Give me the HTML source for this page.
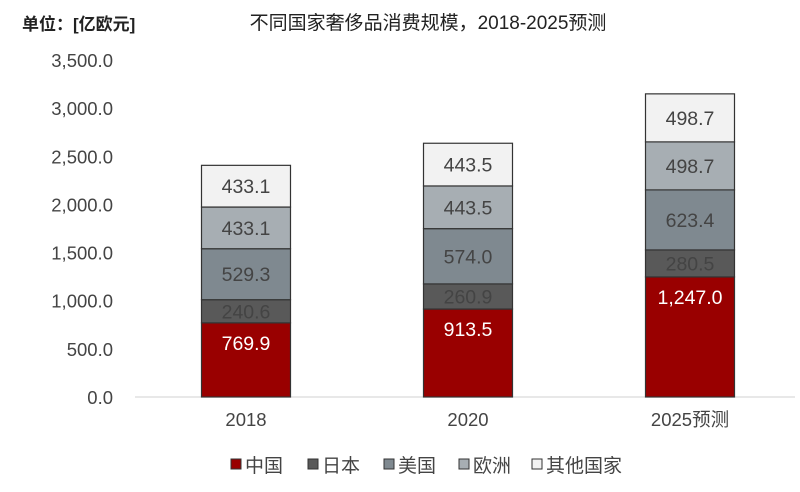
<!DOCTYPE html>
<html><head><meta charset="utf-8"><style>
body{margin:0;background:#fff;font-family:"Liberation Sans","Noto Sans CJK SC",sans-serif}
svg text{font-family:"Liberation Sans","Noto Sans CJK SC",sans-serif}
</style></head><body>
<svg id="c" width="800" height="487" xmlns="http://www.w3.org/2000/svg">
<text x="22" y="30" font-size="17" font-weight="bold" fill="#222">单位：[亿欧元]</text>
<text x="428" y="29" font-size="19" fill="#222" text-anchor="middle">不同国家奢侈品消费规模，2018-2025预测</text>
<g id="axes"></g><g id="bars"></g><g id="legend"></g>
</svg>
<script>
const categories=["2018","2020","2025预测"];
const seriesNames=["中国","日本","美国","欧洲","其他国家"];
const china=[769.9,913.5,1247.0];
const japan=[240.6,260.9,280.5];
const usa=[529.3,574.0,623.4];
const europe=[433.1,443.5,498.7];
const others=[433.1,443.5,498.7];
const yTicks=[0,500,1000,1500,2000,2500,3000,3500];
const colors=["#990000","#595959","#7f8990","#a7aeb3","#f2f2f2"];
const textColors=["#fff","#444","#444","#444","#444"];
const NS="http://www.w3.org/2000/svg";
const y0=397,yTop=60,yMax=3500;
const Y=v=>y0-(v/yMax)*(y0-yTop);
const X=i=>246+i*222;
const bw=89;
function mk(t,a,p){const e=document.createElementNS(NS,t);for(const k in a)e.setAttribute(k,a[k]);p.appendChild(e);return e;}
const ax=document.getElementById('axes');
yTicks.forEach(t=>{
 const e=mk('text',{x:113,y:Y(t)+7,'font-size':18.5,fill:'#444','text-anchor':'end'},ax);
 e.textContent=t.toLocaleString('en-US',{minimumFractionDigits:1,maximumFractionDigits:1});
 
 
});
const base=mk('line',{x1:135,x2:795,y1:y0,y2:y0,stroke:'#d0d0d0','stroke-width':1},ax);


categories.forEach((c,i)=>{
 const e=mk('text',{x:X(i),y:426,'font-size':18.5,fill:'#444','text-anchor':'middle'},ax);
 e.textContent=c;
 
 
});
const series=[china,japan,usa,europe,others];
const bg=document.getElementById('bars');
categories.forEach((c,i)=>{
 let cum=0;
 series.forEach((s,k)=>{
  const v=s[i];const top=Y(cum+v),bot=Y(cum);
  const r=mk('rect',{x:X(i)-bw/2,y:top,width:bw,height:bot-top,fill:colors[k],stroke:'#333','stroke-width':1.2},bg);
  
  
  const ly=k===0?top+27:(top+bot)/2+7;
  const t=mk('text',{x:X(i),y:ly,'font-size':19.5,fill:textColors[k],'text-anchor':'middle'},bg);
  t.textContent=v.toLocaleString('en-US',{minimumFractionDigits:1,maximumFractionDigits:1});
  
  
  cum+=v;
 });
});
const lg=document.getElementById('legend');
const lx=[231,308,384,459,532];
seriesNames.forEach((n,k)=>{
 const g=mk('g',{},lg);
 
 
 mk('rect',{x:lx[k],y:459,width:10,height:10,fill:colors[k],stroke:'#333','stroke-width':1},g);
 const t=mk('text',{x:lx[k]+14,y:472,'font-size':19,fill:'#444'},g);
 t.textContent=n;
});
</script>
</body></html>
